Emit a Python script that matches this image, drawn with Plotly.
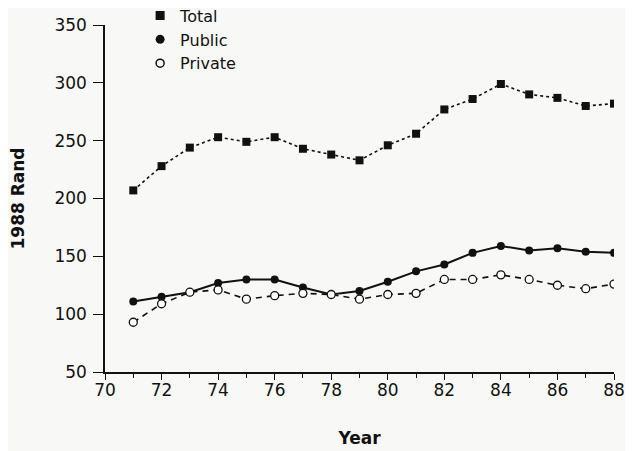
import plotly.graph_objects as go

years = list(range(71, 89))
total = [207, 228, 244, 253, 249, 253, 243, 238, 233, 246, 256, 277, 286, 299, 290, 287, 280, 282]
public = [111, 115, 119, 127, 130, 130, 123, 117, 120, 128, 137, 143, 153, 159, 155, 157, 154, 153]
private = [93, 109, 119, 121, 113, 116, 118, 117, 113, 117, 118, 130, 130, 134, 130, 125, 122, 126]

x_ticks = list(range(70, 89, 2))
y_ticks = list(range(50, 351, 50))

FONT = "DejaVu Sans, Liberation Sans, Arial, sans-serif"
BG = "#f8f8f6"

fig = go.Figure()

fig.add_trace(go.Scatter(x=years, y=total, mode="lines+markers", showlegend=False,
                         line=dict(color="#111", width=1.6, dash="dot"),
                         marker=dict(symbol="square", size=8, color="#111")))
fig.add_trace(go.Scatter(x=years, y=public, mode="lines+markers", showlegend=False,
                         line=dict(color="#111", width=2),
                         marker=dict(symbol="circle", size=8, color="#111")))
fig.add_trace(go.Scatter(x=years, y=private, mode="lines+markers", showlegend=False,
                         line=dict(color="#111", width=1.6, dash="6px,5px"),
                         marker=dict(symbol="circle", size=8, color="white",
                                     line=dict(color="#111", width=1.3))))

# legend-only entries (markers only, as in the original key)
fig.add_trace(go.Scatter(x=[None], y=[None], mode="markers", name="Total",
                         marker=dict(symbol="square", size=9, color="#111")))
fig.add_trace(go.Scatter(x=[None], y=[None], mode="markers", name="Public",
                         marker=dict(symbol="circle", size=9, color="#111")))
fig.add_trace(go.Scatter(x=[None], y=[None], mode="markers", name="Private",
                         marker=dict(symbol="circle-open", size=8, color="#111",
                                     line=dict(width=1.5))))

fig.update_layout(
    width=625, height=443,
    margin=dict(l=97, r=19, t=17, b=79, autoexpand=False),
    paper_bgcolor=BG, plot_bgcolor=BG,
    font=dict(family=FONT, size=17, color="#111"),
    legend=dict(x=0.069, y=1.076, xanchor="left", yanchor="top",
                bgcolor="rgba(0,0,0,0)", font=dict(size=16),
                tracegroupgap=0, itemwidth=30),
    xaxis=dict(range=[70, 88], tickvals=x_ticks, ticktext=[str(v) for v in x_ticks],
               showgrid=False, zeroline=False, showline=True, linecolor="#111", linewidth=1.5,
               ticks="outside", ticklen=6, tickwidth=1.3, tickcolor="#111",
               ticklabelstandoff=-4,
               minor=dict(dtick=1, ticks="outside", ticklen=4, tickwidth=1.2, tickcolor="#111"),
               title=dict(text="<b>Year</b>", font=dict(size=17), standoff=33)),
    yaxis=dict(range=[50, 350], tickvals=y_ticks, ticktext=[str(v) for v in y_ticks],
               showgrid=False, zeroline=False, showline=True, linecolor="#111", linewidth=1.5,
               ticks="outside", ticklen=10, tickwidth=1.3, tickcolor="#111",
               ticklabelstandoff=3,
               title=dict(text="<b>1988 Rand</b>", font=dict(size=17), standoff=25)),
)

fig.write_html("out.html")
